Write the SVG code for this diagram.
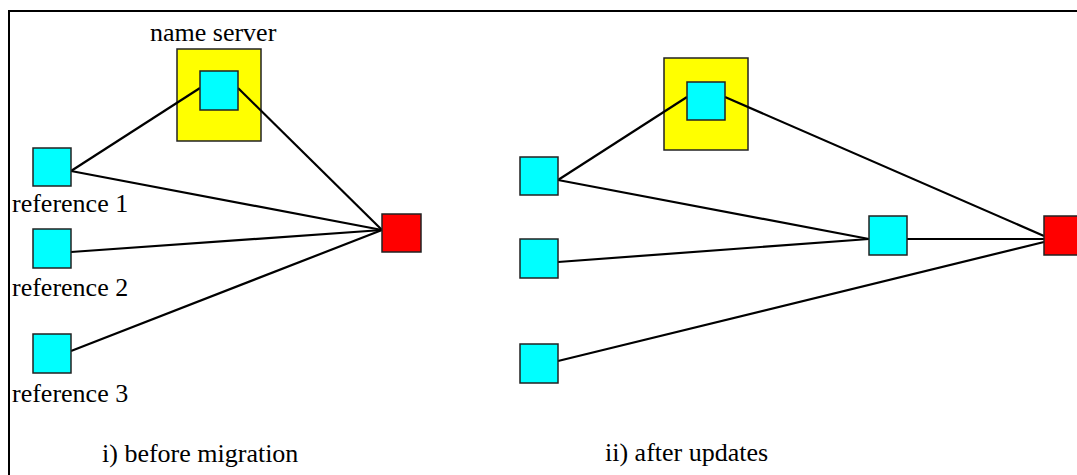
<svg xmlns="http://www.w3.org/2000/svg" width="1077" height="475" viewBox="0 0 1077 475">
<style>
.frame{fill:none;stroke:#000;stroke-width:2}
.ns{fill:#ffff00;stroke:#222;stroke-width:1.5}
.c{fill:#00ffff;stroke:#222;stroke-width:1.5}
.r{fill:#ff0000;stroke:#222;stroke-width:1.5}
.e{stroke:#000;stroke-width:2.2;fill:none}
text{font-family:"Liberation Serif","Times New Roman",serif;font-size:26px;fill:#000}
</style>
<rect width="1077" height="475" fill="#fff"/>
<path class="frame" d="M9,475 V11 H1077"/>
<g id="name-server-1">
<rect class="ns" x="177" y="49" width="84" height="92"/>
<text x="150" y="41">name server</text>
</g>
<g id="name-server-2"><rect class="ns" x="664" y="58" width="84" height="92"/></g>
<g id="connectors">
<line class="e" x1="71" y1="171" x2="200" y2="88"/>
<line class="e" x1="238" y1="88" x2="382" y2="230"/>
<line class="e" x1="71" y1="171" x2="382" y2="230"/>
<line class="e" x1="71" y1="252" x2="382" y2="230"/>
<line class="e" x1="71" y1="351" x2="382" y2="230"/>
<line class="e" x1="558" y1="180" x2="687" y2="97"/>
<line class="e" x1="725" y1="97" x2="1044" y2="236"/>
<line class="e" x1="558" y1="180" x2="869" y2="239"/>
<line class="e" x1="558" y1="262" x2="869" y2="239"/>
<line class="e" x1="907" y1="239" x2="1044" y2="239"/>
<line class="e" x1="558" y1="361" x2="1044" y2="242"/>
</g>
<g id="ns-node-1"><rect class="c" x="200" y="71" width="38" height="39"/></g>
<g id="reference-1"><rect class="c" x="33" y="148" width="38" height="38"/><text x="12" y="212">reference 1</text></g>
<g id="reference-2"><rect class="c" x="33" y="229" width="38" height="39"/><text x="12" y="296">reference 2</text></g>
<g id="reference-3"><rect class="c" x="33" y="334" width="38" height="39"/><text x="12" y="402">reference 3</text></g>
<g id="object-1"><rect class="r" x="382" y="214" width="39" height="38"/></g>
<g id="caption-1"><text x="102" y="462">i) before migration</text></g>
<g id="ns-node-2"><rect class="c" x="687" y="82" width="38" height="38"/></g>
<g id="ref-a"><rect class="c" x="520" y="157" width="38" height="38"/></g>
<g id="ref-b"><rect class="c" x="520" y="239" width="38" height="39"/></g>
<g id="ref-c"><rect class="c" x="520" y="344" width="38" height="39"/></g>
<g id="forwarder"><rect class="c" x="869" y="216" width="38" height="39"/></g>
<g id="object-2"><rect class="r" x="1044" y="216" width="39" height="39"/></g>
<g id="caption-2"><text x="605" y="461">ii) after updates</text></g>
</svg>
